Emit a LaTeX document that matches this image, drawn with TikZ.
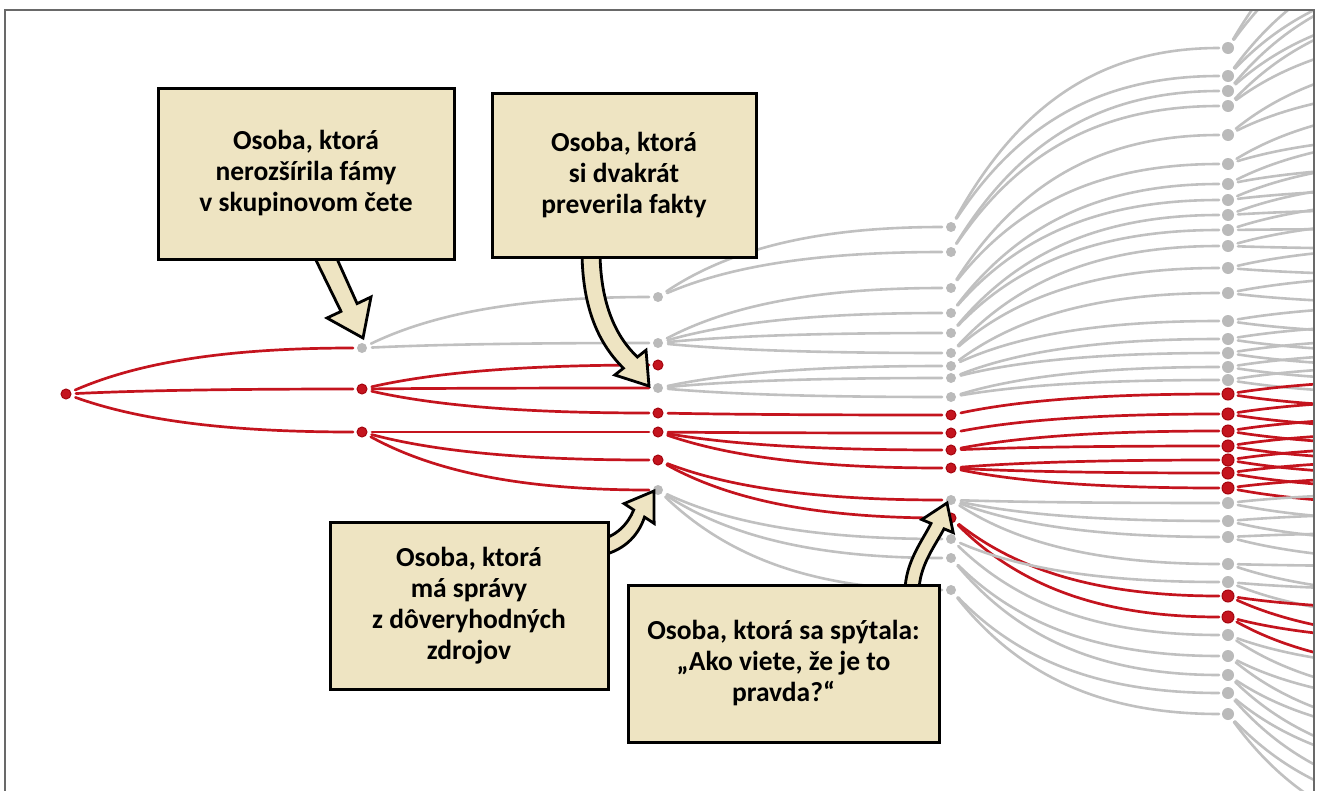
\documentclass[tikz,border=0pt]{standalone}
\usepackage{fontspec}
\setmainfont{Carlito}
\usetikzlibrary{calc}
\definecolor{tred}{RGB}{196,20,30}
\definecolor{tredd}{RGB}{165,5,15}
\definecolor{tgray}{RGB}{192,192,192}
\definecolor{ngray}{RGB}{186,186,186}
\definecolor{boxfill}{RGB}{238,228,194}
\definecolor{framec}{RGB}{105,105,105}
\newcommand\tedge[3]{\draw[#3] let \p1=(#1.center), \p2=(#2.center) in (\p1) .. controls ({\x1+0.25*(\x2-\x1)},{\y1+0.7*(\y2-\y1)}) and ({\x1+0.55*(\x2-\x1)},\y2) .. (\p2);}
\begin{document}
\begin{tikzpicture}[x=1pt,y=-1pt,
  rn/.style={circle,fill=tred,draw=tredd,line width=1pt,inner sep=0pt,minimum size=10pt},
  gn/.style={circle,fill=ngray,inner sep=0pt,minimum size=10pt},
  big/.style={minimum size=12pt},
  redge/.style={draw=tred,line width=2.7pt,line cap=round,shorten <=10pt,shorten >=9pt},
  gedge/.style={draw=tgray,line width=2.6pt,line cap=round,shorten <=10pt,shorten >=9pt},
  boxst/.style={draw=black,line width=3pt,fill=boxfill,inner sep=0pt,align=center,font=\fontsize{27.5}{31}\selectfont\bfseries},
  arrowst/.style={draw=black,line width=2.8pt,fill=boxfill,line join=miter}
]
\useasboundingbox (0,0) rectangle (1320,790);
\begin{scope}
\clip (5,10) rectangle (1314,790);
% nodes
\node[rn] (a394) at (66,394) {};
\foreach \q/\s in {348/gn,389/rn,432/rn} \node[\s] (b\q) at (362,\q) {};
\foreach \q/\s in {297/gn,343/gn,365/rn,388/gn,413/rn,432/rn,460/rn,490/gn} \node[\s] (c\q) at (658,\q) {};
\foreach \q/\s in {227/gn,252/gn,288/gn,313/gn,333/gn,353/gn,366/gn,378/gn,397/gn,415/rn,433/rn,450/rn,468/rn,500/gn,518/rn,539/gn,558/gn,590/gn} \node[\s] (d\q) at (951,\q) {};
\foreach \q/\s in {48/gn,76/gn,91/gn,106/gn,135/gn,164/gn,184/gn,200/gn,215/gn,230/gn,246/gn,268/gn,293/gn,321/gn,339/gn,353/gn,367/gn,380/gn,394/rn,414/rn,431/rn,446/rn,460/rn,473/rn,488/rn,503/gn,521/gn,537/gn,564/gn,582/gn,596/rn,617/rn,635/gn,656/gn,675/gn,693/gn,714/gn} \node[\s,big] (e\q) at (1228,\q) {};
% edges
\foreach \u/\v/\w in {a394/b348/redge,a394/b389/redge,a394/b432/redge,
  b348/c297/gedge,b348/c343/gedge,b389/c365/redge,b389/c388/redge,b389/c413/redge,b432/c432/redge,b432/c460/redge,b432/c490/redge,
  c297/d227/gedge,c297/d252/gedge,c343/d288/gedge,c343/d313/gedge,c343/d333/gedge,c343/d353/gedge,c388/d366/gedge,c388/d378/gedge,c388/d397/gedge,c413/d415/redge,c432/d433/redge,c432/d450/redge,c432/d468/redge,c460/d500/redge,c460/d518/redge,c490/d539/gedge,c490/d558/gedge,c490/d590/gedge,
  d227/e48/gedge,d227/e76/gedge,d252/e91/gedge,d252/e106/gedge,d288/e135/gedge,d288/e164/gedge,d313/e184/gedge,d313/e200/gedge,d333/e215/gedge,d333/e230/gedge,d353/e246/gedge,d353/e268/gedge,d366/e293/gedge,d366/e321/gedge,d378/e339/gedge,d378/e353/gedge,d397/e367/gedge,d397/e380/gedge,
  d415/e394/redge,d433/e414/redge,d450/e431/redge,d450/e446/redge,d468/e460/redge,d468/e473/redge,d468/e488/redge,
  d500/e503/gedge,d500/e521/gedge,d500/e537/gedge,d500/e564/gedge,d518/e596/redge,d518/e617/redge,d539/e582/gedge,d539/e635/gedge,d558/e656/gedge,d558/e675/gedge,d590/e693/gedge,d590/e714/gedge}
  {\tedge{\u}{\v}{\w}}
% level 5 (leaving the frame)
\foreach \q/\w in {48/gedge,76/gedge,91/gedge,106/gedge,135/gedge,164/gedge,184/gedge,200/gedge,215/gedge,230/gedge,246/gedge,268/gedge,293/gedge,321/gedge,339/gedge,353/gedge,367/gedge,380/gedge,394/redge,414/redge,431/redge,446/redge,460/redge,473/redge,488/redge,503/gedge,521/gedge,537/gedge,564/gedge,582/gedge,596/redge,617/redge,635/gedge,656/gedge,675/gedge,693/gedge,714/gedge}
{
  \pgfmathsetmacro\ym{\q+3.6*((\q-395)/100)^3}
  \pgfmathsetmacro\ya{\ym-15}
  \pgfmathsetmacro\yb{\ym+15}
  \coordinate (f\q-a) at (1500,\ya);
  \coordinate (f\q-b) at (1500,\yb);
  \tedge{e\q}{f\q-a}{\w}
  \tedge{e\q}{f\q-b}{\w}
}
\end{scope}
% callout arrows
\draw[arrowst] (311,250) -- (341,311.4) -- (327,318) -- (363,338) -- (371,297) -- (357.1,303.6) -- (333,250) -- cycle;
\draw[arrowst] (582,250) .. controls (582,310) and (600,345) .. (623.4,368.2) -- (614.8,375) -- (649,386) -- (646,350.2) -- (637.4,357) .. controls (614,335) and (600,300) .. (600,250) -- cycle;
\draw[arrowst] (598,540) .. controls (616,537) and (628,524) .. (633.7,509.9) -- (624.1,503.6) -- (654,491) -- (654.1,523.4) -- (644.5,517.1) .. controls (638,537) and (622,552) .. (598,556) -- cycle;
\draw[arrowst] (905,592) .. controls (905,562) and (923,540) .. (931,523.4) -- (921.8,519.6) -- (947,503) -- (953.2,532.6) -- (944,528.8) .. controls (935,546) and (919,566) .. (919,592) -- cycle;
% boxes
\node[boxst,minimum width=296pt,minimum height=171pt] (box1) at (306,173.5) {Osoba, ktorá\\nerozšírila fámy\\v skupinovom čete};
\node[boxst,minimum width=264pt,minimum height=164pt] (box2) at (624,175) {Osoba, ktorá\\si dvakrát\\preverila fakty};
\node[boxst,minimum width=278pt,minimum height=167pt] (box3) at (469,605.5) {Osoba, ktorá\\má správy\\z dôveryhodných\\zdrojov};
\node[boxst,minimum width=311pt,minimum height=157pt] (box4) at (783.5,663.5) {Osoba, ktorá sa spýtala:\\„Ako viete, že je to\\pravda?“};
% frame
\draw[framec,line width=1.6pt] (5,795) -- (5,10) -- (1314,10) -- (1314,795);
\end{tikzpicture}
\end{document}
